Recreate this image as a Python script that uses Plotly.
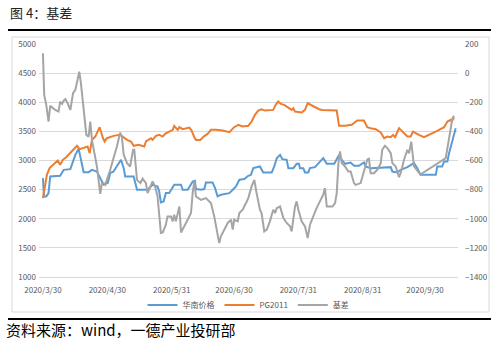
import pandas as pd
import plotly.graph_objects as go

START = pd.Timestamp("2020-03-30")

# 华南价格 (left axis) — day offsets from 2020/3/30 and values
south_days = [0, 0.5, 1.6, 2.7, 3.5, 8.3, 10, 13.2, 15.6, 17.2, 19.6, 22, 23.6, 26, 27.6,
              29.2, 31.2, 32.4, 34, 35.6, 37.6, 38.9, 39.6, 43.7, 45.3, 50.4, 52.8, 55.2, 56, 56.8,
              58.1, 59.2, 60.8, 62, 63.2, 66.5, 67.3, 69.7, 71.3, 72.1, 73.2, 73.7, 76.1, 77.7, 78.5,
              81.7, 82.9, 84.1, 85.7, 89.8, 91.4, 93, 94.6, 97, 98.9, 100.2, 101.3, 104.5, 106.1, 110.2,
              111.4, 112.6, 114.2, 115.3, 117.4, 118.2, 120.6, 122.2, 123.3, 123.8, 125.4, 126.2, 127.8, 128.6, 131,
              132.6, 135, 136.7, 140.3, 142.6, 143.9, 145.5, 148.2, 149.8, 152.2, 154.6, 155.4, 157.8, 167.5, 168.3,
              170.7, 172.3, 175.5, 178.7, 180.3, 181.9, 189.2, 189.9, 192.3, 193.2, 194.8, 195.6, 197.2, 198.8]
south_vals = [2698, 2383, 2383, 2440, 2725, 2737, 2840, 2852, 3097, 3200, 2800, 2800, 2840, 2811, 2698,
              2583, 2612, 2783, 2811, 2897, 3012, 2869, 2725, 2725, 2497, 2497, 2583, 2554, 2469, 2280,
              2297, 2440, 2440, 2509, 2583, 2583, 2497, 2497, 2583, 2640, 2652, 2509, 2497, 2509, 2623,
              2623, 2526, 2383, 2411, 2440, 2497, 2554, 2669, 2681, 2737, 2754, 2869, 2897, 2795, 2795,
              2897, 3040, 3097, 3023, 3012, 2869, 2869, 2943, 2943, 2869, 2869, 2795, 2795, 2869, 2886,
              2943, 3040, 2943, 2943, 3097, 3012, 2943, 2966, 2909, 2909, 2966, 2897, 2869, 2886, 2811,
              2795, 2840, 2886, 2955, 2869, 2754, 2754, 2897, 2897, 2983, 2983, 3126, 3354, 3555]

# PG2011 (left axis)
pg_days = [0, 0.8, 1.9, 3.2, 5.1, 7.1, 8.3, 9.6, 11.2, 13.2, 15.1, 16.4, 17.7, 19.6, 21.5,
           22.5, 23.6, 25.2, 27.3, 28.9, 29.7, 30.8, 34, 37.2, 38.5, 40.5, 42.4, 43.7, 46.1, 48.8,
           49.6, 52, 52.8, 54.4, 56, 57.7, 58.8, 61.3, 62.5, 63.2, 64.2, 64.9, 65.7, 67.3, 70.5,
           71.6, 72.9, 73.7, 75.8, 77.4, 79.3, 80.9, 83.3, 86.6, 89.8, 90.9, 92.1, 94.1, 96.2, 98.9,
           100.5, 102.1, 103.7, 105.3, 106.9, 110.9, 112.1, 113.3, 114.6, 116.2, 118.2, 119.8, 120.6, 121.4, 124.6,
           126.2, 127.5, 129.1, 131, 133, 134.5, 141.5, 142.6, 145.5, 148.7, 151.4, 154.6, 156.2, 157.8, 160.3,
           162.7, 164.3, 165.9, 167.5, 168.6, 169.6, 171.5, 173.1, 175.5, 177.1, 178.2, 181.1, 183.5, 189.2, 193.2,
           194.8, 196.4, 196.9, 198]
pg_vals = [2355, 2554, 2754, 2869, 2926, 3000, 2926, 3012, 3057, 3126, 3195, 3252, 3195, 3212, 3240,
           3126, 3354, 3411, 3572, 3383, 3326, 3383, 3423, 3440, 3400, 3354, 3326, 3252, 3269, 3240,
           3326, 3383, 3354, 3423, 3440, 3411, 3457, 3497, 3526, 3595, 3555, 3526, 3572, 3537, 3566,
           3514, 3400, 3354, 3354, 3411, 3457, 3526, 3526, 3514, 3486, 3526, 3572, 3612, 3583, 3595,
           3669, 3783, 3857, 3880, 3857, 3869, 3955, 4012, 3972, 3955, 3909, 3869, 3898, 3840, 3823,
           3869, 3983, 3955, 3915, 3880, 3869, 3857, 3595, 3595, 3612, 3686, 3686, 3572, 3555, 3537,
           3480, 3383, 3411, 3400, 3440, 3400, 3555, 3497, 3411, 3411, 3497, 3440, 3400, 3497, 3572,
           3669, 3697, 3669, 3743]

# 基差 (right axis)
basis_days = [0, 0.6, 1.6, 2.7, 3.5, 5.9, 7.5, 8.3, 9.2, 10,
              10.8, 11.9, 13.2, 14.5, 15.6, 16.4, 17.5, 18.3, 19.6, 20.9,
              22, 22.8, 23.6, 24.4, 26, 27.6, 28.4, 29.2, 30, 30.8,
              32.4, 35.6, 37.2, 38, 38.9, 40.5, 42, 43.4, 44, 45.3,
              46.9, 48, 49.6, 50.4, 51.2, 52.8, 54, 55.2, 56.8, 57.7,
              59.2, 60, 61.7, 62.5, 63.2, 64, 65.7, 66.5, 69.7, 71.3,
              72.1, 72.9, 73.7, 76.1, 78.5, 80.9, 82.5, 83.8, 84.9, 85.7,
              89, 90.6, 91.4, 92.1, 93.8, 94.6, 96.2, 97.8, 98.9, 100.5,
              101.8, 102.9, 104.5, 105.3, 106.6, 107.8, 109.3, 110.9, 111.8, 112.6,
              114.2, 115.8, 117.4, 119, 119.8, 121.4, 122.2, 123, 124.6, 126.2,
              127.5, 128.6, 131.8, 135, 135.8, 136.7, 139.4, 140.7, 141.5, 142.3,
              143.1, 143.9, 145.5, 147.1, 148.2, 149.8, 150.6, 153, 153.8, 156.2,
              157, 157.8, 159.4, 161, 162.7, 163.4, 164.7, 165.9, 167.5, 168.3,
              169.9, 171.5, 172.3, 173.9, 175.5, 176.3, 177.4, 177.9, 178.7, 181.9,
              182.7, 194, 195.6, 197.2, 198]
basis_vals = [136, -150, -218, -333, -225, -253, -264, -196, -211, -189,
              -179, -207, -253, -138, -115, -58, 10, -70, -275, -424,
              -436, -333, -458, -527, -641, -829, -755, -755, -767, -733,
              -664, -504, -408, -436, -561, -618, -641, -527, -527, -733,
              -755, -725, -755, -824, -801, -744, -778, -847, -1098, -1094,
              -1041, -984, -984, -1018, -973, -1018, -916, -1094, -1007, -961,
              -824, -744, -847, -870, -858, -892, -984, -1098, -1167, -1121,
              -1029, -1007, -1075, -1007, -1018, -961, -938, -892, -858, -778,
              -733, -824, -938, -961, -1087, -1075, -1018, -938, -961, -927,
              -916, -995, -1029, -1052, -1087, -916, -881, -938, -1018, -1052,
              -1132, -1041, -927, -835, -790, -916, -916, -892, -824, -618,
              -538, -618, -641, -676, -676, -755, -767, -755, -710, -595,
              -584, -687, -687, -664, -618, -527, -499, -515, -550, -618,
              -641, -714, -687, -595, -527, -550, -470, -550, -641, -698,
              -687, -584, -436, -310, -294]

tick_dates = ["2020-03-30", "2020-04-30", "2020-05-31", "2020-06-30", "2020-07-31", "2020-08-31", "2020-09-30"]
tick_text = ["2020/3/30", "2020/4/30", "2020/5/31", "2020/6/30", "2020/7/31", "2020/8/31", "2020/9/30"]

def to_dates(days):
    return [START + pd.Timedelta(days=d) for d in days]

FONT = "Noto Sans CJK SC"
GRAY_TXT = "#595959"

fig = go.Figure()
fig.add_trace(go.Scatter(x=to_dates(south_days), y=south_vals, name="华南价格", mode="lines",
                         line=dict(color="#5B9BD5", width=2)))
fig.add_trace(go.Scatter(x=to_dates(pg_days), y=pg_vals, name="PG2011", mode="lines",
                         line=dict(color="#ED7D31", width=2)))
fig.add_trace(go.Scatter(x=to_dates(basis_days), y=basis_vals, name="基差", mode="lines",
                         line=dict(color="#A5A5A5", width=2), yaxis="y2"))

L, R, T, B = 39, 458, 44, 277
W, H = 500, 345

def px_x(px):
    return (px - L) / (R - L)

def px_y(py):
    return (B - py) / (B - T)

fig.update_layout(
    width=W, height=H,
    margin=dict(l=L, r=W - R, t=T, b=H - B),
    paper_bgcolor="white", plot_bgcolor="white",
    font=dict(family=FONT, size=8, color=GRAY_TXT),
    showlegend=True,
    legend=dict(orientation="h", x=0.5, xanchor="center", y=px_y(305), yanchor="middle",
                font=dict(size=8, color=GRAY_TXT), bgcolor="rgba(0,0,0,0)", itemwidth=30,
                tracegroupgap=0),
    xaxis=dict(type="date",
               range=[START + pd.Timedelta(days=-1.9), START + pd.Timedelta(days=199.9)],
               tickvals=tick_dates, ticktext=tick_text, showgrid=False,
               showline=True, linecolor="#d9d9d9", linewidth=1, ticks="",
               ticklabelstandoff=5,
               tickfont=dict(size=8, color=GRAY_TXT)),
    yaxis=dict(range=[1000, 5000], dtick=500, showgrid=True, gridcolor="#d9d9d9", gridwidth=1,
               zeroline=False, showline=False, ticks="", ticklabelstandoff=2,
               tickfont=dict(size=8, color=GRAY_TXT)),
    yaxis2=dict(range=[-1400, 200], dtick=200, overlaying="y", side="right", showgrid=False,
                zeroline=False, showline=False, ticks="", ticklabelstandoff=6,
                tickfont=dict(size=8, color=GRAY_TXT)),
    shapes=[
        dict(type="rect", xref="paper", yref="paper", x0=px_x(12), x1=px_x(489), y0=px_y(312), y1=px_y(37),
             line=dict(color="#d9d9d9", width=1), fillcolor="rgba(0,0,0,0)", layer="below"),
        dict(type="line", xref="paper", yref="paper", x0=px_x(8), x1=px_x(491), y0=px_y(30), y1=px_y(30),
             line=dict(color="black", width=2)),
        dict(type="line", xref="paper", yref="paper", x0=px_x(8), x1=px_x(491), y0=px_y(319), y1=px_y(319),
             line=dict(color="black", width=2)),
    ],
    annotations=[
        dict(text="图 4：基差", xref="paper", yref="paper", x=px_x(8), y=px_y(13), xanchor="left",
             yanchor="middle", showarrow=False, font=dict(family=FONT, size=13, color="#222222")),
        dict(text="资料来源：wind，一德产业投研部", xref="paper", yref="paper", x=px_x(4), y=px_y(329),
             xanchor="left", yanchor="middle", showarrow=False, font=dict(family=FONT, size=15, color="black")),
    ],
)

fig.write_html("out.html")
